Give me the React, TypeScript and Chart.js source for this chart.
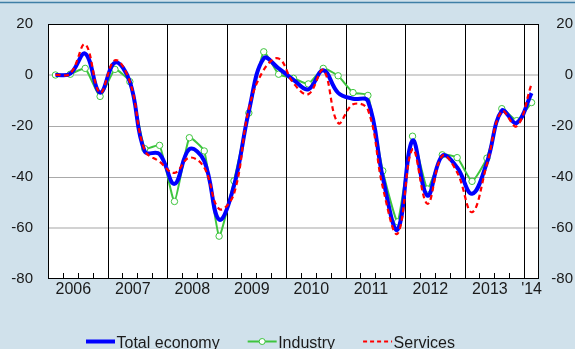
import React, { useEffect, useRef } from "react";
import { Chart, registerables } from "chart.js";

Chart.register(...registerables);

// Quarterly data, 2006 Q1 .. 2014 Q1 (33 quarters)
const yearLabels = ["2006", "2007", "2008", "2009", "2010", "2011", "2012", "2013", "'14"];
const quarterCount = 33;

const totalEconomy = [
  0, 0.5, 8.4, -6.9, 4.9, -2.6, -30, -31, -42.7, -29.1, -33.7, -56.7, -43.4, -14.2, 6.5, 2.6,
  -1.9, -5.6, 1.9, -7, -9.3, -10.2, -40.2, -60.6, -25.7, -47.3, -31.7, -36.3, -46.6, -34.3, -14, -18.8, -7.1,
];
const industry = [
  0, 0.3, 2.6, -8.4, 2.2, -2.6, -28.9, -27.6, -49.6, -24.6, -29.8, -63.2, -41.5, -14.9, 9.1, 0.3,
  -1.3, -3.5, 2.6, -0.3, -6.9, -8.0, -37.6, -57.6, -24, -44.7, -31.3, -32.4, -41.7, -32.6, -13.2, -17.9, -10.8,
];
const services = [
  0, 0.6, 12, -7, 5.8, -2.6, -29.5, -34, -38.4, -32.4, -36.3, -52.5, -46.6, -13.2, 2, 6.5,
  -3.2, -7.5, 1.9, -18.8, -11.5, -13.6, -44, -62.2, -29.1, -50.5, -31.7, -38.2, -53.8, -35, -14.2, -20.1, -3.5,
];

const yMin = -80;
const yMax = 20;
const yStep = 20;

const BG = "#d0e1eb";
const FONT = "'Liberation Sans', Arial, Helvetica, sans-serif";
const BLUE = "#0000ff";
const GREEN = "#3ec53e";
const RED = "#ff0000";

export default function App() {
  const ref = useRef<HTMLCanvasElement>(null);

  useEffect(() => {
    if (!ref.current) return;
    const toXY = (arr: number[]) => arr.map((v, i) => ({ x: i + 0.5, y: v }));

    const decor = {
      id: "decor",
      beforeDraw(chart: any) {
        const { ctx, width, height, chartArea: a } = chart;
        ctx.save();
        ctx.fillStyle = BG;
        ctx.fillRect(0, 0, width, height);
        ctx.fillStyle = "#ffffff";
        ctx.fillRect(a.left, a.top, a.right - a.left, a.bottom - a.top);
        ctx.strokeStyle = "#3f7fa6";
        ctx.lineWidth = 1.5;
        ctx.beginPath();
        ctx.moveTo(0, 2.5);
        ctx.lineTo(width, 2.5);
        ctx.stroke();
        ctx.restore();
      },
      beforeDatasetsDraw(chart: any) {
        const { ctx, chartArea: a } = chart;
        const xs = chart.scales.x;
        ctx.save();
        ctx.strokeStyle = "#000000";
        ctx.lineWidth = 1;
        for (let q = 1; q < quarterCount; q++) {
          const px = Math.round(xs.getPixelForValue(q)) + 0.5;
          ctx.beginPath();
          if (q % 4 === 0) {
            ctx.moveTo(px, a.top);
            ctx.lineTo(px, a.bottom);
          } else {
            ctx.moveTo(px, a.bottom - 6);
            ctx.lineTo(px, a.bottom);
          }
          ctx.stroke();
        }
        ctx.restore();
      },
      afterDatasetsDraw(chart: any) {
        const { ctx, chartArea: a } = chart;
        ctx.save();
        ctx.strokeStyle = "#000000";
        ctx.lineWidth = 1;
        ctx.strokeRect(
          Math.round(a.left) + 0.5,
          Math.round(a.top) + 0.5,
          Math.round(a.right - a.left) - 1,
          Math.round(a.bottom - a.top) - 1
        );
        ctx.restore();
      },
      afterDraw(chart: any) {
        const { ctx } = chart;
        const items = [
          { label: "Total economy", color: BLUE, width: 4, dash: [] as number[], marker: false },
          { label: "Industry", color: GREEN, width: 2, dash: [] as number[], marker: true },
          { label: "Services", color: RED, width: 2, dash: [4, 3], marker: false },
        ];
        ctx.save();
        ctx.font = `16px ${FONT}`;
        ctx.textBaseline = "alphabetic";
        ctx.textAlign = "left";
        let x = 86;
        const lineY = 341.5;
        const textY = 347.5;
        for (const it of items) {
          ctx.strokeStyle = it.color;
          ctx.lineWidth = it.width;
          ctx.setLineDash(it.dash);
          ctx.beginPath();
          ctx.moveTo(x, lineY);
          ctx.lineTo(x + 29, lineY);
          ctx.stroke();
          ctx.setLineDash([]);
          if (it.marker) {
            ctx.fillStyle = "#ffffff";
            ctx.lineWidth = 1;
            ctx.beginPath();
            ctx.arc(x + 14.5, lineY, 3, 0, Math.PI * 2);
            ctx.fill();
            ctx.stroke();
          }
          ctx.fillStyle = "#1a1a1a";
          ctx.fillText(it.label, x + 30.5, textY);
          x += 30.5 + ctx.measureText(it.label).width + 28;
        }
        ctx.restore();
      },
    };

    const yTickFont = { family: FONT, size: 15 };

    const chart = new Chart(ref.current, {
      type: "line",
      data: {
        datasets: [
          {
            label: "Services",
            data: toXY(services),
            borderColor: RED,
            borderWidth: 2.2,
            borderDash: [5, 3.5],
            tension: 0.4,
            pointRadius: 0,
            fill: false,
            order: 0,
          },
          {
            label: "Total economy",
            data: toXY(totalEconomy),
            borderColor: BLUE,
            borderWidth: 4,
            tension: 0.4,
            pointRadius: 0,
            fill: false,
            order: 1,
          },
          {
            label: "Industry",
            data: toXY(industry),
            borderColor: GREEN,
            borderWidth: 2,
            tension: 0.15,
            pointRadius: 3.2,
            pointBorderWidth: 1,
            pointBackgroundColor: "#ffffff",
            pointBorderColor: GREEN,
            fill: false,
            order: 2,
          },
        ],
      },
      options: {
        responsive: false,
        animation: false,
        events: [],
        layout: { padding: { top: 22, right: 2, left: 0, bottom: 0 } },
        plugins: {
          legend: { display: false },
          tooltip: { enabled: false },
        },
        scales: {
          x: {
            type: "linear",
            min: 0,
            max: quarterCount,
            grid: { display: false, drawTicks: false },
            border: { display: false },
            afterBuildTicks: (axis: any) => {
              axis.ticks = yearLabels.map((_, k) => {
                const start = k * 4;
                const end = Math.min(start + 4, quarterCount);
                const full = end - start === 4;
                return { value: (start + end) / 2 - (full ? 0.3 : 0) };
              });
            },
            afterFit: (axis: any) => {
              axis.height = 70;
            },
            ticks: {
              autoSkip: false,
              maxRotation: 0,
              padding: 1,
              color: "#1a1a1a",
              font: { family: FONT, size: 16 },
              callback: (_v: any, i: number) => yearLabels[i],
            },
          },
          y: {
            position: "left",
            min: yMin,
            max: yMax,
            border: { display: false },
            grid: {
              drawTicks: false,
              color: (c: any) =>
                c.tick && (c.tick.value === yMax || c.tick.value === yMin)
                  ? "rgba(0,0,0,0)"
                  : c.tick && (c.tick.value === 0 || c.tick.value === -60)
                  ? "#d2d2d2"
                  : "#a9a9a9",
              lineWidth: (c: any) => (c.tick && (c.tick.value === 0 || c.tick.value === -60) ? 2 : 1),
            },
            afterFit: (axis: any) => {
              axis.width = 48;
            },
            ticks: {
              stepSize: yStep,
              padding: 15,
              color: "#1a1a1a",
              font: yTickFont,
            },
          },
          y2: {
            position: "right",
            min: yMin,
            max: yMax,
            border: { display: false },
            grid: { display: false, drawTicks: false },
            afterFit: (axis: any) => {
              axis.width = 34;
            },
            ticks: {
              stepSize: yStep,
              crossAlign: "far",
              color: "#1a1a1a",
              font: yTickFont,
            },
          },
        },
      },
      plugins: [decor],
    } as any);

    return () => chart.destroy();
  }, []);

  return (
    <div style={{ position: "fixed", left: 0, top: 0, width: 575, height: 349 }}>
      <canvas ref={ref} width={575} height={349} style={{ display: "block" }} />
    </div>
  );
}
